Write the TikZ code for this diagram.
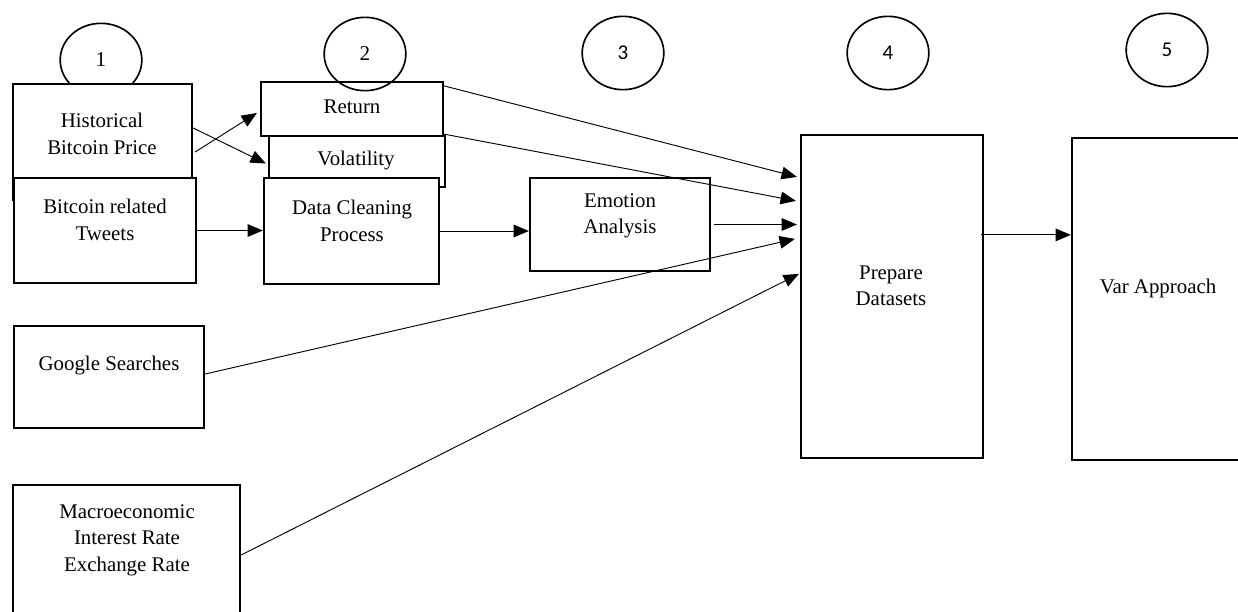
\documentclass[tikz,border=0pt]{standalone}
\usepackage{fontspec}
\setmainfont{Liberation Serif}
\newfontfamily\numfont{Carlito}
\usepackage{tikz}
\usetikzlibrary{
    shapes.geometric,
    arrows.meta,
    positioning,
    calc,
    fit
}
\tikzset{
    % Plain box drawn round a pair of corners
    databox/.style={
        rectangle,
        draw=black,
        fill=white,
        line width=1.9pt,
        inner sep=0pt,
    },
    % Text set inside a box
    boxtext/.style={
        font=\fontsize{17.8}{22.5}\selectfont,
        align=center,
        inner sep=0pt,
    },
    % Numbered stage marker
    stagemark/.style={
        ellipse,
        draw=black,
        line width=1.4pt,
        minimum width=2.45cm,
        minimum height=2.2cm,
        inner sep=0pt,
        font=\fontsize{18}{22}\selectfont,
    },
    % Thin connector with a big filled head
    flow/.style={
        -{Triangle[length=0.46cm, width=0.38cm]},
        line width=0.8pt,
        draw=black,
    },
}
\begin{document}
\begin{tikzpicture}[x=0.03cm, y=-0.03cm]
    \useasboundingbox (0,0) rectangle (1238,611);

    % stage 1: raw inputs
    \node (s1) [stagemark] at (101,60) {1};
    \node (hist) [databox, fit={(13,84) (192,200)}] {};
    \node (tweets) [databox, fit={(14,178) (196,283)}] {};
    \node (goog) [databox, fit={(14,326) (204,428)}] {};
    \node (macro) [databox, fit={(13,485) (240,625)}] {};

    % stage 2: derived series and cleaning
    \node (ret) [databox, fit={(261,82) (443,136)}] {};
    \node (vol) [databox, fit={(269,136) (445,187)}] {};
    \node (clean) [databox, fit={(264,178) (439,284)}] {};
    \node (s2) [stagemark] at (365,54) {2};

    % stages 3 to 5
    \node (s3) [stagemark, font=\fontsize{18}{22}\numfont] at (623,53) {3};
    \node (emo) [databox, fit={(530,178) (710,271)}] {};
    \node (s4) [stagemark, font=\fontsize{18}{22}\numfont] at (888,53) {4};
    \node (prep) [databox, fit={(801,135) (983,458)}] {};
    \node (s5) [stagemark, font=\fontsize{18}{22}\numfont] at (1167,50) {5};
    \node (var) [databox, fit={(1072,138) (1250,460)}] {};

    % box texts
    \node (histtext) [boxtext] at (102,134) {Historical\\Bitcoin Price};
    \node (tweetstext) [boxtext] at (105,220) {Bitcoin related\\Tweets};
    \node (googtext) [boxtext] at (109,366) {Google Searches};
    \node (macrotext) [boxtext] at (127,540) {Macroeconomic\\Interest Rate\\Exchange Rate};
    \node (rettext) [boxtext] at (352,107) {Return};
    \node (voltext) [boxtext] at (356,161) {Volatility};
    \node (cleantext) [boxtext] at (352,221) {Data Cleaning\\Process};
    \node (emotext) [boxtext] at (620,216) {Emotion\\Analysis};
    \node (preptext) [boxtext] at (891,286) {Prepare\\Datasets};
    \node (vartext) [boxtext] at (1158,288) {Var Approach};

    % connectors
    \coordinate (prepout) at ($(prep.north east)+(-3,101)$);
    \draw [flow] ($(hist.east)+(2,10)$) -- ($(ret.west)+(-3,4)$);
    \draw [flow] ($(hist.east)+(-2,-15)$) -- ($(vol.west)+(-2,2)$);
    \draw [flow] (tweets.east) -- (tweets.east -| clean.west);
    \draw [flow] (clean.east) -- (clean.east -| emo.west);
    \draw [flow] ($(ret.north east)+(0,5)$) -- ($(prep.north west)+(-3,43)$);
    \draw [flow] ($(ret.south east)+(0,-3)$) -- ($(prep.north west)+(-4,67)$);
    \draw [flow] ($(emo.east)+(3,0)$) -- ($(emo.east -| prep.west)+(-3,0)$);
    \draw [flow] ($(goog.east)+(0,-3)$) -- ($(prep.north west)+(-5,105)$);
    \draw [flow] (macro.east) -- ($(prep.north west)+(-1,140)$);
    \draw [flow] (prepout) -- (prepout -| var.west);
\end{tikzpicture}
\end{document}
